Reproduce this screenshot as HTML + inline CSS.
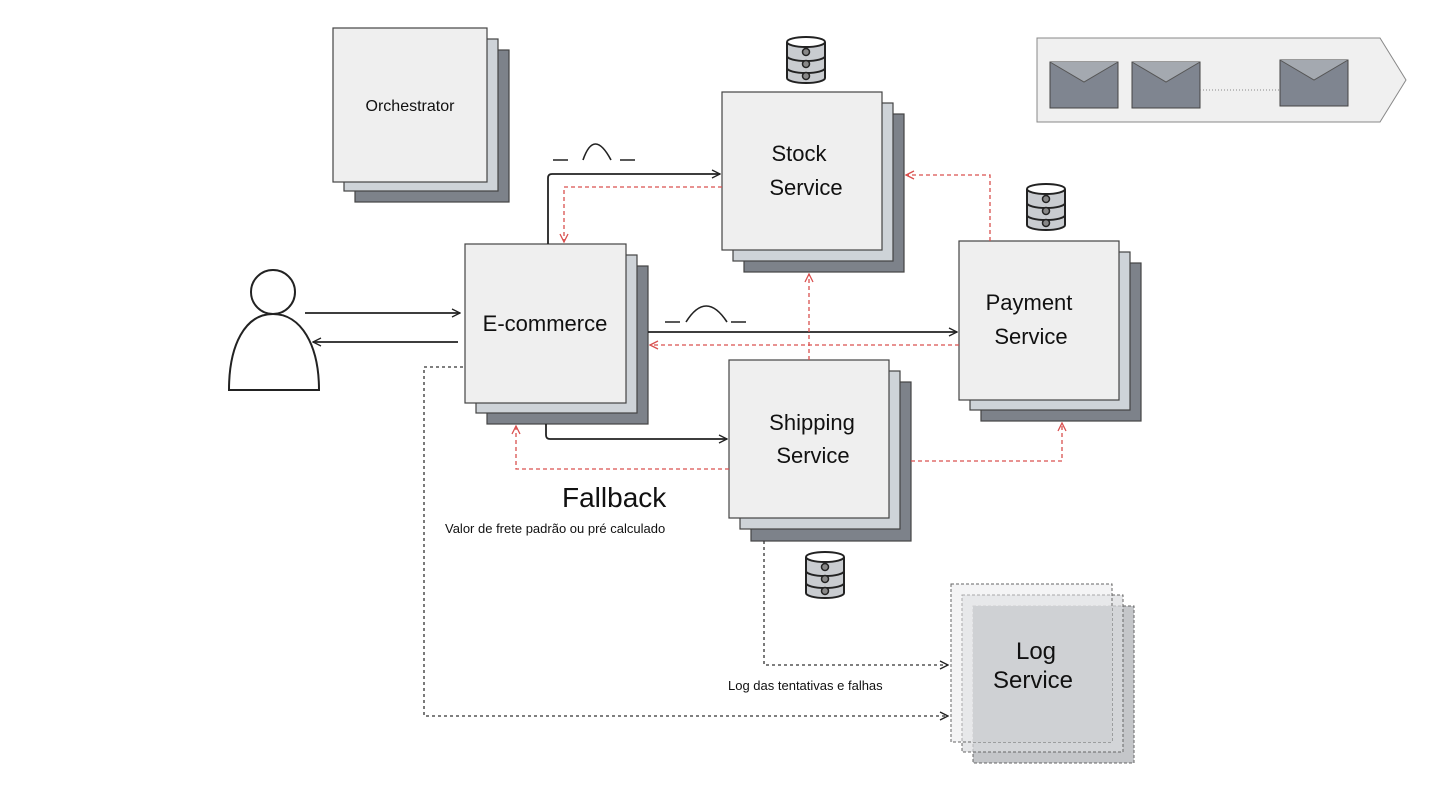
<!DOCTYPE html>
<html><head><meta charset="utf-8"><style>
html,body{margin:0;padding:0;background:#fff;width:1440px;height:810px;overflow:hidden}
svg{display:block}
text{font-family:"Liberation Sans","DejaVu Sans",sans-serif;fill:#111}
</style></head><body>
<svg width="1440" height="810" viewBox="0 0 1440 810" xmlns="http://www.w3.org/2000/svg">
<defs>
<marker id="ab" markerWidth="10" markerHeight="10" refX="9" refY="5" orient="auto" markerUnits="userSpaceOnUse"><path d="M1,1 L9,5 L1,9" fill="none" stroke="#222" stroke-width="1.3"/></marker>
<marker id="ar" markerWidth="10" markerHeight="10" refX="9" refY="5" orient="auto" markerUnits="userSpaceOnUse"><path d="M1,1 L9,5 L1,9" fill="none" stroke="#d9504f" stroke-width="1.3"/></marker>
<g id="db"><path d="M0,6 v36 a19,5 0 0 0 38,0 v-36" fill="#c9ccd0" stroke="#222" stroke-width="2"/><ellipse cx="19" cy="6" rx="19" ry="5" fill="#fff" stroke="#222" stroke-width="2"/><path d="M0,20 a19,5 0 0 0 38,0 M0,32 a19,5 0 0 0 38,0" fill="none" stroke="#222" stroke-width="2"/><circle cx="19" cy="16" r="3.5" fill="#888" stroke="#222" stroke-width="1.5"/><circle cx="19" cy="28" r="3.5" fill="#888" stroke="#222" stroke-width="1.5"/><circle cx="19" cy="40" r="3.5" fill="#888" stroke="#222" stroke-width="1.5"/></g>
<g id="env"><rect x="0" y="0" width="68" height="46" fill="#7f8590" stroke="#444" stroke-width="1"/><path d="M0,0 L34,20 L68,0" fill="#a4a9b0" stroke="#555"/></g>
</defs>

<!-- stacked boxes -->
<g stroke="#444" stroke-width="1.2">
<rect x="355" y="50" width="154" height="152" fill="#7d828a"/><rect x="344" y="39" width="154" height="152" fill="#ced3d8"/><rect x="333" y="28" width="154" height="154" fill="#efefef"/>
<rect x="744" y="114" width="160" height="158" fill="#7d828a"/><rect x="733" y="103" width="160" height="158" fill="#ced3d8"/><rect x="722" y="92" width="160" height="158" fill="#efefef"/>
<rect x="487" y="266" width="161" height="158" fill="#7d828a"/><rect x="476" y="255" width="161" height="158" fill="#ced3d8"/><rect x="465" y="244" width="161" height="159" fill="#efefef"/>
<rect x="981" y="263" width="160" height="158" fill="#7d828a"/><rect x="970" y="252" width="160" height="158" fill="#ced3d8"/><rect x="959" y="241" width="160" height="159" fill="#efefef"/>
<rect x="751" y="382" width="160" height="159" fill="#7d828a"/><rect x="740" y="371" width="160" height="158" fill="#ced3d8"/><rect x="729" y="360" width="160" height="158" fill="#efefef"/>
</g>
<g stroke="#666" stroke-width="1" stroke-dasharray="3,2">
<rect x="973" y="606" width="161" height="157" fill="#c4c6c9"/><rect x="962" y="595" width="161" height="157" fill="#dadcde" fill-opacity="0.7"/><rect x="951" y="584" width="161" height="158" fill="#e9eaeb" fill-opacity="0.5"/>
</g>
<rect x="973" y="606" width="139" height="136" fill="#cfd1d4"/>

<!-- labels -->
<g font-size="19" text-anchor="middle">
<text x="410" y="111" font-size="16">Orchestrator</text>
<text x="799" y="161" font-size="22">Stock</text><text x="806" y="195" font-size="22">Service</text>
<text x="545" y="331" font-size="22">E-commerce</text>
<text x="1029" y="310" font-size="22">Payment</text><text x="1031" y="344" font-size="22">Service</text>
<text x="812" y="430" font-size="22">Shipping</text><text x="813" y="463" font-size="22">Service</text>
<text x="1036" y="659" font-size="24">Log</text><text x="1033" y="688" font-size="24">Service</text>
</g>
<text x="562" y="507" font-size="28">Fallback</text>
<text x="445" y="533" font-size="13">Valor de frete padrão ou pré calculado</text>
<text x="728" y="690" font-size="13">Log das tentativas e falhas</text>

<!-- queue -->
<polygon points="1037,38 1380,38 1406,80 1380,122 1037,122" fill="#f0f0f0" stroke="#888"/>
<use href="#env" x="1050" y="62"/><use href="#env" x="1132" y="62"/><use href="#env" x="1280" y="60"/>
<line x1="1200" y1="90" x2="1280" y2="90" stroke="#888" stroke-dasharray="1,2"/>

<use href="#db" x="787" y="36"/><use href="#db" x="1027" y="183"/><use href="#db" x="806" y="551"/>

<!-- person -->
<circle cx="273" cy="292" r="22" fill="#fff" stroke="#222" stroke-width="2"/>
<path d="M229,390 C229,345 245,314 273,314 C301,314 319,345 319,390 Z" fill="#fff" stroke="#222" stroke-width="2"/>

<!-- black arrows -->
<g fill="none" stroke="#222" stroke-width="1.8">
<line x1="305" y1="313" x2="460" y2="313" marker-end="url(#ab)"/>
<line x1="458" y1="342" x2="313" y2="342" marker-end="url(#ab)"/>
<path d="M548,244 V178 Q548,174 552,174 H720" marker-end="url(#ab)"/>
<path d="M648,332 H957" marker-end="url(#ab)"/>
<path d="M546,424 V435 Q546,439 550,439 H727" marker-end="url(#ab)"/>
<path d="M553,160 H568 M583,160 Q594,128 611,160 M620,160 H635" stroke-width="1.6"/>
<path d="M665,322 H680 M686,322 Q706,290 727,322 M731,322 H746" stroke-width="1.6"/>
</g>
<g fill="none" stroke="#333" stroke-width="1.3" stroke-dasharray="3,3">
<path d="M463,367 H424 V716 H948" marker-end="url(#ab)"/>
<path d="M764,541 V665 H948" marker-end="url(#ab)"/>
</g>
<!-- red dashed -->
<g fill="none" stroke="#d9504f" stroke-width="1.3" stroke-dasharray="4,3">
<path d="M722,187 H564 V242" marker-end="url(#ar)"/>
<path d="M959,345 H650" marker-end="url(#ar)"/>
<path d="M809,360 V274" marker-end="url(#ar)"/>
<path d="M990,241 V175 H906" marker-end="url(#ar)"/>
<path d="M729,469 H516 V426" marker-end="url(#ar)"/>
<path d="M911,461 H1062 V423" marker-end="url(#ar)"/>
</g>
</svg>
</body></html>
